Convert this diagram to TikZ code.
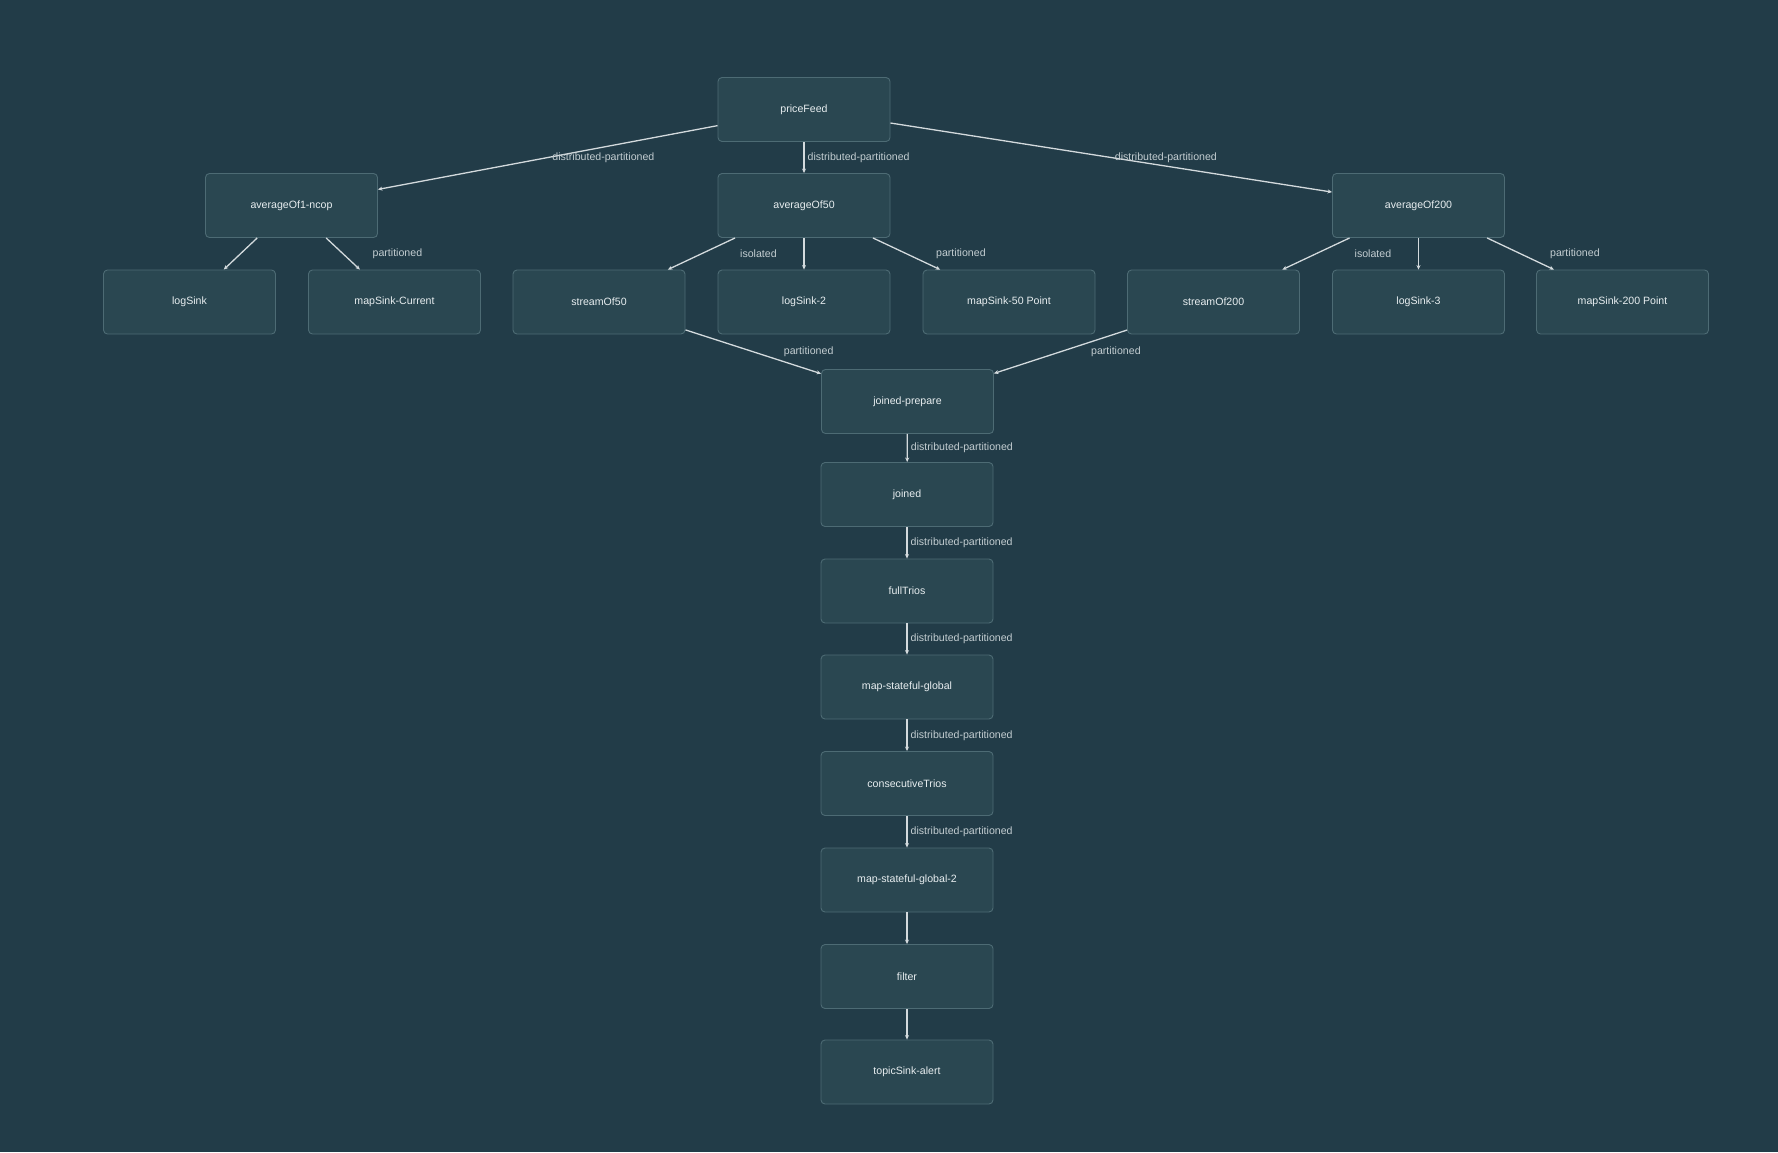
\documentclass[tikz,border=0pt]{standalone}
\usepackage{fontspec}
\setmainfont{Liberation Sans}
\usetikzlibrary{arrows.meta}
\definecolor{bgc}{HTML}{223C48}
\definecolor{boxfill}{HTML}{2A4751}
\definecolor{boxline}{HTML}{4D6B74}
\definecolor{edgec}{HTML}{D3DADD}
\definecolor{txtc}{HTML}{E8EEF0}
\definecolor{lblc}{HTML}{C3CDD1}
\begin{document}
\begin{tikzpicture}[x=1pt,y=-1pt,
  opbox/.style={draw=boxline, line width=0.9pt, fill=boxfill, rounded corners=4pt,
    minimum width=172pt, minimum height=64pt, inner sep=0pt,
    font=\fontsize{10.6}{12}\selectfont, text=txtc},
  flow/.style={draw=edgec, line width=1.3pt, -{Stealth[length=4.5pt,width=4pt]}},
  elbl/.style={font=\fontsize{10.6}{12}\selectfont, text=lblc, inner sep=0pt, anchor=west}]
\fill[bgc] (0,0) rectangle (1778,1152);
\useasboundingbox (0,0) rectangle (1778,1152);
% nodes
\node[opbox] (pf) at (804,109.5) {priceFeed};
\node[opbox] (a1) at (291.5,205.5) {averageOf1-ncop};
\node[opbox] (a50) at (804,205.5) {averageOf50};
\node[opbox] (a200) at (1418.5,205.5) {averageOf200};
\node[opbox] (ls) at (189.5,302) {logSink};
\node[opbox] (msc) at (394.5,302) {mapSink-Current};
\node[opbox] (s50) at (599,302) {streamOf50};
\node[opbox] (ls2) at (804,302) {logSink-2};
\node[opbox] (ms50) at (1009,302) {mapSink-50 Point};
\node[opbox] (s200) at (1213.5,302) {streamOf200};
\node[opbox] (ls3) at (1418.5,302) {logSink-3};
\node[opbox] (ms200) at (1622.5,302) {mapSink-200 Point};
\node[opbox] (jp) at (907.5,401.5) {joined-prepare};
\node[opbox] (jn) at (907,494.5) {joined};
\node[opbox] (ft) at (907,591) {fullTrios};
\node[opbox] (msg) at (907,687) {map-stateful-global};
\node[opbox] (ct) at (907,783.5) {consecutiveTrios};
\node[opbox] (msg2) at (907,880) {map-stateful-global-2};
\node[opbox] (fl) at (907,976.5) {filter};
\node[opbox] (ts) at (907,1072) {topicSink-alert};
% edges
\draw[flow] (pf) -- node[elbl, pos=0.5, xshift=4pt] (l1) {distributed-partitioned} (a1);
\draw[flow] (pf) -- node[elbl, pos=0.5, xshift=3pt] (l2) {distributed-partitioned} (a50);
\draw[flow] (pf) -- node[elbl, pos=0.5, xshift=3pt] (l3) {distributed-partitioned} (a200);
\draw[flow] (a1) -- (ls);
\draw[flow] (a1) -- node[elbl, pos=0.5, xshift=29pt] (l4) {partitioned} (msc);
\draw[flow] (a50) -- node[elbl, pos=0.5, xshift=38pt] (l5) {isolated} (s50);
\draw[flow] (a50) -- (ls2);
\draw[flow] (a50) -- node[elbl, pos=0.5, xshift=29pt] (l6) {partitioned} (ms50);
\draw[flow] (a200) -- node[elbl, pos=0.5, xshift=38pt] (l7) {isolated} (s200);
\draw[flow] (a200) -- (ls3);
\draw[flow] (a200) -- node[elbl, pos=0.5, xshift=29pt] (l8) {partitioned} (ms200);
\draw[flow] (s50) -- node[elbl, pos=0.5, xshift=30pt] (l9) {partitioned} (jp);
\draw[flow] (s200) -- node[elbl, pos=0.5, xshift=30pt] (l10) {partitioned} (jp);
\draw[flow] (jp) -- node[elbl, pos=0.5, xshift=3pt] (l11) {distributed-partitioned} (jn);
\draw[flow] (jn) -- node[elbl, pos=0.5, xshift=3pt] (l12) {distributed-partitioned} (ft);
\draw[flow] (ft) -- node[elbl, pos=0.5, xshift=3pt] (l13) {distributed-partitioned} (msg);
\draw[flow] (msg) -- node[elbl, pos=0.5, xshift=3pt] (l14) {distributed-partitioned} (ct);
\draw[flow] (ct) -- node[elbl, pos=0.5, xshift=3pt] (l15) {distributed-partitioned} (msg2);
\draw[flow] (msg2) -- (fl);
\draw[flow] (fl) -- (ts);
\end{tikzpicture}
\end{document}
